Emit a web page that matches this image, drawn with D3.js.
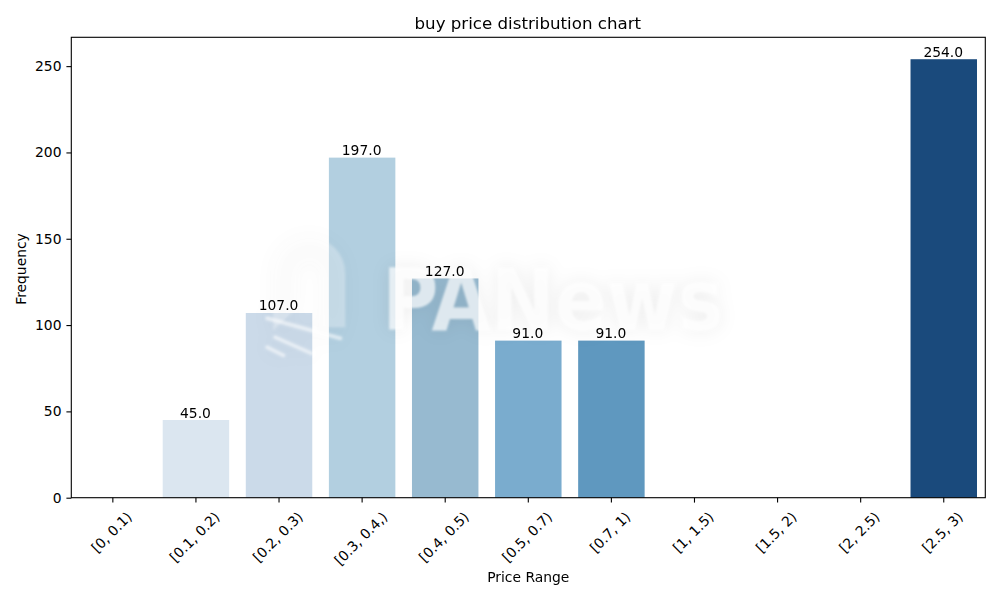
<!DOCTYPE html>
<html>
<head>
    <title>buy price distribution chart</title>
    <script src="https://d3js.org/d3.v7.min.js"></script>
    <style>
        body { margin: 0; background: #fff; }
        text { font-family: "DejaVu Sans", sans-serif; fill: #000; }
    </style>
</head>
<body>
    <div id="chart"></div>

    <script>
        var categories = ["[0, 0.1)", "[0.1, 0.2)", "[0.2, 0.3)", "[0.3, 0.4,)", "[0.4, 0.5)", "[0.5, 0.7)", "[0.7, 1)", "[1, 1.5)", "[1.5, 2)", "[2, 2.5)", "[2.5, 3)"];
        var frequencies = [0, 45, 107, 197, 127, 91, 91, 0, 0, 0, 254];
        var barColors = ["#e6eef5", "#dbe6f0", "#cbdae9", "#b2cfe0", "#97bad0", "#7aacce", "#5f98bf", "#4a86b3", "#3a72a3", "#2a5f90", "#1a4a7c"];
        var yTicks = [0, 50, 100, 150, 200, 250];

        var width = 1000, height = 600;
        var margin = { top: 37.3, right: 14.7, bottom: 102.3, left: 71.3 };
        var plotWidth = width - margin.left - margin.right;
        var plotHeight = height - margin.top - margin.bottom;

        var svg = d3.select("#chart").append("svg")
            .attr("width", width).attr("height", height)
            .style("display", "block");

        var g = svg.append("g")
            .attr("transform", "translate(" + margin.left + "," + margin.top + ")");

        var x = d3.scaleBand().domain(categories).range([0, plotWidth]).paddingInner(0.2).paddingOuter(0.1);
        var y = d3.scaleLinear().domain([0, 266.7]).range([plotHeight, 0]);

        // Bars
        g.selectAll(".bar")
            .data(categories)
            .enter().append("rect")
            .attr("class", "bar")
            .attr("x", function(d) { return x(d); })
            .attr("width", x.bandwidth())
            .attr("y", function(d, i) { return y(frequencies[i]); })
            .attr("height", function(d, i) { return plotHeight - y(frequencies[i]); })
            .attr("fill", function(d, i) { return barColors[i]; });

        // Faint watermark, white with a soft grey halo
        var mark = g.append("g")
            .style("filter", "blur(1px) drop-shadow(0 0 9px rgba(0,0,0,0.10))");
        mark.append("text")
            .attr("x", 311).attr("y", 293)
            .attr("textLength", 341).attr("lengthAdjust", "spacingAndGlyphs")
            .attr("opacity", 0.7)
            .style("font-size", "86px").style("font-weight", "bold").style("fill", "#fff")
            .text("PANews");
        mark.append("path")
            .attr("d", "M202 293V236A36 36 0 0 1 274 236V290H250V236A12 12 0 0 0 226 236V270Z")
            .attr("fill", "#fff").attr("opacity", 0.28);
        mark.selectAll("line")
            .data([[196, 281, 269, 301], [204, 300, 240, 316], [196, 310, 212, 318]])
            .enter().append("line")
            .attr("x1", function(d) { return d[0]; }).attr("y1", function(d) { return d[1]; })
            .attr("x2", function(d) { return d[2]; }).attr("y2", function(d) { return d[3]; })
            .attr("stroke", "#fff").attr("stroke-width", 4).attr("stroke-linecap", "round").attr("opacity", 0.55);

        // Value labels, zero bars have none
        g.selectAll(".value")
            .data(categories.filter(function(d, i) { return frequencies[i] > 0; }))
            .enter().append("text")
            .attr("class", "value")
            .attr("x", function(d) { return x(d) + x.bandwidth() / 2 - 0.5; })
            .attr("y", function(d) { return y(frequencies[categories.indexOf(d)]) - 2.5; })
            .attr("text-anchor", "middle")
            .style("font-size", "13.89px")
            .text(function(d) { return frequencies[categories.indexOf(d)].toFixed(1); });

        // Axes
        var xAxis = g.append("g")
            .attr("transform", "translate(0," + plotHeight + ")")
            .call(d3.axisBottom(x).tickSize(4.9).tickPadding(5));
        var yAxis = g.append("g")
            .call(d3.axisLeft(y).tickValues(yTicks).tickSize(4.9).tickPadding(4.9));

        xAxis.select(".domain").remove();
        yAxis.select(".domain").remove();
        g.selectAll(".tick line").attr("stroke", "#000").attr("stroke-width", 1.1);
        g.selectAll(".tick text").style("font-size", "13.89px").style("font-family", "DejaVu Sans");

        // Rotate each label about its centre, top of its box kept on one line
        xAxis.selectAll(".tick text").each(function() {
            var t = d3.select(this);
            var len = this.getComputedTextLength();
            var cy = 12 + (len + 14) * Math.SQRT1_2 / 2;
            t.attr("y", 0).attr("dy", "0.32em")
                .attr("text-anchor", "middle")
                .attr("transform", "translate(-1," + cy + ") rotate(-45)");
        });

        // Frame
        g.append("rect")
            .attr("width", plotWidth).attr("height", plotHeight)
            .attr("fill", "none").attr("stroke", "#000").attr("stroke-width", 1.1);

        // Titles
        svg.append("text")
            .attr("x", margin.left + plotWidth / 2 - 0.5).attr("y", 28.5)
            .attr("text-anchor", "middle").style("font-size", "16.67px")
            .text("buy price distribution chart");
        svg.append("text")
            .attr("x", margin.left + plotWidth / 2).attr("y", 582)
            .attr("text-anchor", "middle").style("font-size", "13.89px")
            .text("Price Range");
        svg.append("text")
            .attr("transform", "translate(26," + (margin.top + plotHeight / 2 + 1.5) + ") rotate(-90)")
            .attr("text-anchor", "middle").style("font-size", "13.89px")
            .text("Frequency");
    </script>
</body>
</html>
